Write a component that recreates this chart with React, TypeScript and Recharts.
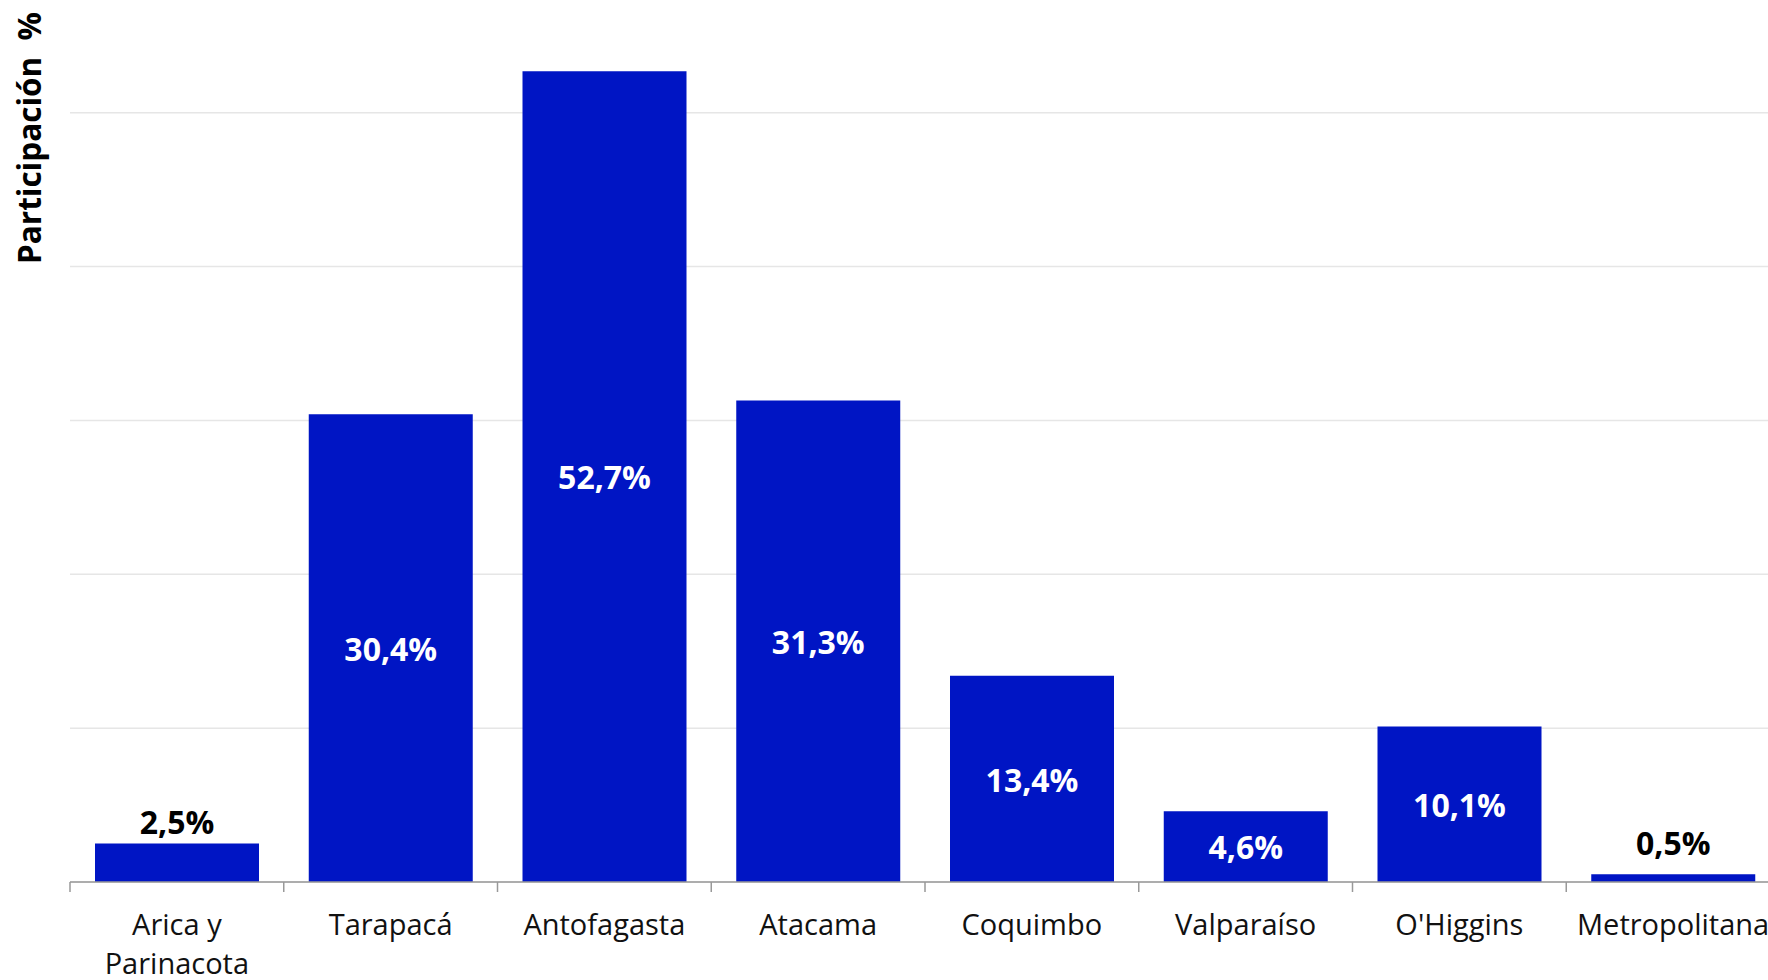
import { BarChart, Bar, XAxis, YAxis, CartesianGrid, LabelList } from 'recharts';

const regions = [
    'Arica y Parinacota',
    'Tarapacá',
    'Antofagasta',
    'Atacama',
    'Coquimbo',
    'Valparaíso',
    "O'Higgins",
    'Metropolitana',
];

const participation = [2.5, 30.4, 52.7, 31.3, 13.4, 4.6, 10.1, 0.5];

const yTicks = [0, 10, 20, 30, 40, 50];

const data = regions.map((region, i) => ({ region, value: participation[i] }));

const FONT = "'Open Sans', sans-serif";
const BAR_COLOR = '#0015C4';
// labels for bars shorter than this go above the bar
const INSIDE_MIN = 4;
const MAX_LINE_CHARS = 12;

function wrapWords(label: string) {
    const lines: string[] = [];
    let cur = '';
    for (const w of label.split(' ')) {
        const next = cur ? cur + ' ' + w : w;
        if (cur && next.length > MAX_LINE_CHARS) {
            lines.push(cur);
            cur = w;
        } else {
            cur = next;
        }
    }
    if (cur) lines.push(cur);
    return lines;
}

function RegionTick(props: any) {
    const { x, y, payload } = props;
    const half = payload.offset || 0;
    const lines = wrapWords(String(payload.value));
    return (
        <g>
            <line x1={x - half} x2={x - half} y1={y - 10} y2={y} stroke="#999" strokeWidth={1.5} />
            <text x={x} y={y + 43} textAnchor="middle" fill="#111"
                style={{ fontFamily: FONT, fontSize: 29 }}>
                {lines.map((l, i) => (
                    <tspan key={i} x={x} dy={i === 0 ? 0 : 39}>{l}</tspan>
                ))}
            </text>
        </g>
    );
}

function ValueLabel(props: any) {
    const { x, y, width, height, value } = props;
    const text = Number(value).toFixed(1).replace('.', ',') + '%';
    const cx = x + width / 2;
    const style = { fontFamily: FONT, fontSize: 32, fontWeight: 700 };
    if (value >= INSIDE_MIN) {
        return (
            <text x={cx} y={y + height / 2} dy="0.40em" textAnchor="middle" fill="#fff" style={style}>
                {text}
            </text>
        );
    }
    const base = Math.min(y - 10, y + height - 27);
    return (
        <text x={cx} y={base} textAnchor="middle" fill="#000" style={style}>
            {text}
        </text>
    );
}

function AxisTitle() {
    return (
        <text
            x={0}
            y={0}
            transform="translate(41, 138) rotate(-90)"
            textAnchor="middle"
            fill="#000"
            style={{ fontFamily: FONT, fontSize: 31.5, fontWeight: 700, whiteSpace: 'pre' }}
        >
            {'Participación  %'}
        </text>
    );
}

const NoTick = () => <g />;

export default function App() {
    return (
        <div style={{ position: 'absolute', left: 0, top: 0, width: 1768, height: 980, overflow: 'hidden', background: '#fff' }}>
            <BarChart
                width={1780}
                height={980}
                data={data}
                margin={{ top: 5, right: 0, bottom: 0, left: 0 }}
                barCategoryGap={0}
            >
                <CartesianGrid vertical={false} stroke="#e6e6e6" strokeWidth={1.5} syncWithTicks />
                <YAxis
                    width={70}
                    domain={[0, 57]}
                    ticks={yTicks}
                    tick={<NoTick />}
                    axisLine={false}
                    tickLine={false}
                    label={<AxisTitle />}
                />
                <XAxis
                    dataKey="region"
                    height={98}
                    interval={0}
                    tickSize={10}
                    tickMargin={0}
                    tickLine={false}
                    axisLine={{ stroke: '#999', strokeWidth: 1.5 }}
                    tick={<RegionTick />}
                />
                <Bar dataKey="value" fill={BAR_COLOR} barSize={164} isAnimationActive={false}>
                    <LabelList dataKey="value" content={<ValueLabel />} />
                </Bar>
            </BarChart>
        </div>
    );
}
